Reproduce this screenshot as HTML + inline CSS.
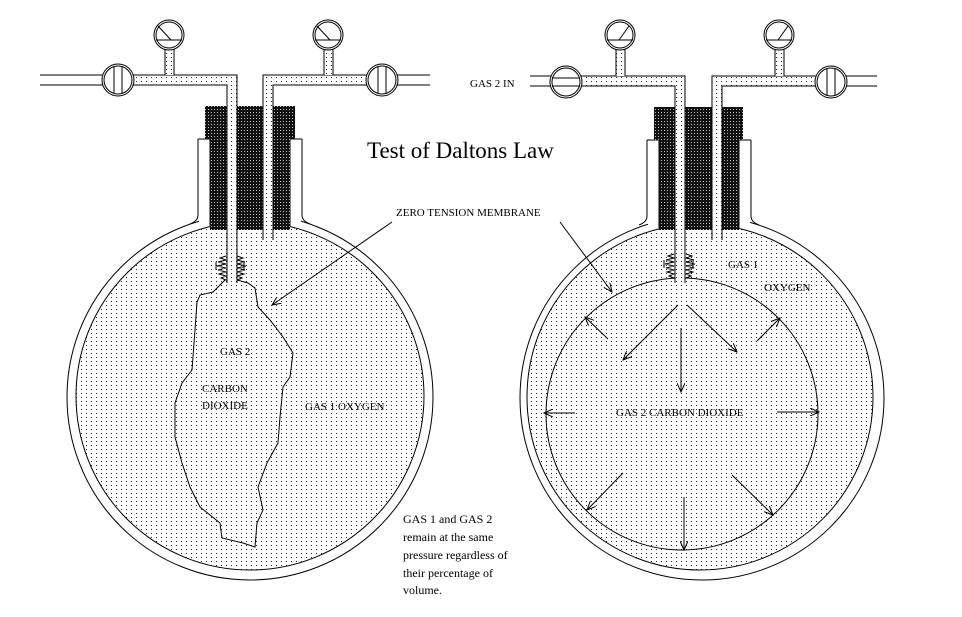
<!DOCTYPE html>
<html><head><meta charset="utf-8"><style>
html,body{margin:0;padding:0;background:#fff}
svg{display:block}
text{font-family:"Liberation Serif",serif;fill:#000}
</style></head><body>
<svg width="962" height="617" viewBox="0 0 962 617" xmlns="http://www.w3.org/2000/svg">
<defs>
<pattern id="d" width="5" height="4" patternUnits="userSpaceOnUse"><rect width="5" height="4" fill="#fff"/><rect x="1" y="1" width="1" height="1" fill="#222"/></pattern>
<pattern id="k" width="3" height="3" patternUnits="userSpaceOnUse"><rect width="3" height="3" fill="#111"/><rect x="1" y="1" width="1" height="1" fill="#bbb"/></pattern>
<marker id="a" markerWidth="10" markerHeight="8" refX="9" refY="4" orient="auto" markerUnits="userSpaceOnUse"><path d="M0,0 L9,4 L0,8" fill="none" stroke="#000" stroke-width="1"/></marker>
</defs>
<g stroke="#000" stroke-width="1" fill="none">

<!-- LEFT FLASK -->
<circle cx="250" cy="397" r="183" fill="#fff"/>
<rect x="199" y="139" width="102" height="88" fill="#fff" stroke="none"/>
<path d="M198,139 V215 Q198,221 190,224 M302,139 V215 Q302,221 310,224 M198,139 H210 M290,139 H302"/>
<circle cx="250" cy="396" r="174" fill="url(#d)"/>
<path d="M210,139 V226 M290,139 V226"/>
<rect x="205" y="106" width="90" height="33" fill="url(#k)" stroke="none"/>
<rect x="210" y="138" width="80" height="92" fill="url(#k)" stroke="none"/>
<path fill="url(#d)" d="M225,280 L213,292 L200,295 L197,302 L195,330 L192,370 L182,383 L175,403 L175,437 L182,463 L190,487 L200,507 L220,523 L222,538 L243,543 L255,547 L257,523 L263,510 L258,487 L267,463 L278,443 L280,417 L283,387 L290,377 L293,353 L283,337 L270,320 L258,307 L255,288 L248,283 L237,280 Z"/>
<path d="M226,256 l-6,2 l6,2 l-8,2 l8,2 l-9,2 l9,2 l-8,2 l8,2 l-7,2 l7,2 l-5,2 l5,2 M216,262 v8 M237,256 l6,2 l-6,2 l8,2 l-8,2 l9,2 l-9,2 l8,2 l-8,2 l7,2 l-7,2 l5,2 l-5,2 M244,262 v8"/>
<rect x="227" y="75" width="10" height="208" fill="url(#d)" stroke="none"/>
<rect x="134" y="75" width="103" height="10" fill="url(#d)" stroke="none"/>
<rect x="263" y="75" width="10" height="165" fill="url(#d)" stroke="none"/>
<rect x="263" y="75" width="103" height="10" fill="url(#d)" stroke="none"/>
<path d="M40,75 H237 V283 M40,85 H227 V283"/>
<path d="M430,75 H263 V240 M430,85 H273 V240"/>
<rect x="165" y="49" width="9" height="26" fill="url(#d)" stroke="none"/>
<path d="M165,49 V75 M174,49 V75"/>
<circle cx="169" cy="35" r="15" fill="#fff"/><circle cx="169" cy="35" r="13"/>
<path d="M156,40 H182 M158,26 L171,40"/>
<rect x="324" y="49" width="9" height="26" fill="url(#d)" stroke="none"/>
<path d="M324,49 V75 M333,49 V75"/>
<circle cx="328" cy="35" r="15" fill="#fff"/><circle cx="328" cy="35" r="13"/>
<path d="M315,40 H341 M317,26 L330,40"/>
<circle cx="118" cy="80" r="16" fill="#fff"/><circle cx="118" cy="80" r="14"/>
<path d="M114,67 V93 M122,67 V93"/>
<circle cx="382" cy="80" r="16" fill="#fff"/><circle cx="382" cy="80" r="14"/>
<path d="M378,67 V93 M386,67 V93"/>

<!-- RIGHT FLASK -->
<circle cx="702" cy="398" r="182" fill="#fff"/>
<rect x="648" y="140" width="102" height="88" fill="#fff" stroke="none"/>
<path d="M647,140 V216 Q647,222 639,225 M751,140 V216 Q751,222 759,225 M647,140 H659 M739,140 H751"/>
<circle cx="700" cy="397" r="173" fill="url(#d)"/>
<path d="M659,140 V228 M739,140 V228"/>
<rect x="654" y="107" width="89" height="33" fill="url(#k)" stroke="none"/>
<rect x="659" y="138" width="80" height="92" fill="url(#k)" stroke="none"/>
<circle cx="682" cy="414" r="136" fill="url(#d)"/>
<path d="M674,254 l-6,2 l6,2 l-8,2 l8,2 l-9,2 l9,2 l-8,2 l8,2 l-7,2 l7,2 l-5,2 l5,2 M664,260 v8 M686,254 l6,2 l-6,2 l8,2 l-8,2 l9,2 l-9,2 l8,2 l-8,2 l7,2 l-7,2 l5,2 l-5,2 M693,260 v8"/>
<rect x="675" y="76" width="10" height="207" fill="url(#d)" stroke="none"/>
<rect x="582" y="76" width="103" height="10" fill="url(#d)" stroke="none"/>
<rect x="712" y="76" width="10" height="164" fill="url(#d)" stroke="none"/>
<rect x="712" y="76" width="103" height="10" fill="url(#d)" stroke="none"/>
<path d="M530,76 H685 V283 M530,86 H675 V283"/>
<path d="M877,76 H712 V240 M877,86 H722 V240"/>
<rect x="616" y="49" width="9" height="27" fill="url(#d)" stroke="none"/>
<path d="M616,49 V76 M625,49 V76"/>
<circle cx="620" cy="35" r="15" fill="#fff"/><circle cx="620" cy="35" r="13"/>
<path d="M607,40 H633 M619,40 L629,26"/>
<rect x="775" y="49" width="9" height="27" fill="url(#d)" stroke="none"/>
<path d="M775,49 V76 M784,49 V76"/>
<circle cx="779" cy="35" r="15" fill="#fff"/><circle cx="779" cy="35" r="13"/>
<path d="M766,40 H792 M778,40 L788,26"/>
<circle cx="566" cy="82" r="16" fill="#fff"/><circle cx="566" cy="82" r="14"/>
<path d="M552,78 H580 M552,86 H580"/>
<circle cx="831" cy="82" r="16" fill="#fff"/><circle cx="831" cy="82" r="14"/>
<path d="M827,69 V95 M835,69 V95"/>

<g marker-end="url(#a)">
<line x1="678" y1="305" x2="623" y2="360"/>
<line x1="687" y1="305" x2="737" y2="352"/>
<line x1="681" y1="328" x2="681" y2="392"/>
<line x1="608" y1="339" x2="585" y2="317"/>
<line x1="757" y1="341" x2="780" y2="318"/>
<line x1="575" y1="413" x2="544" y2="413"/>
<line x1="777" y1="412" x2="819" y2="412"/>
<line x1="623" y1="473" x2="587" y2="510"/>
<line x1="732" y1="475" x2="773" y2="515"/>
<line x1="684" y1="497" x2="684" y2="550"/>
<line x1="392" y1="222" x2="272" y2="305"/>
<line x1="560" y1="222" x2="612" y2="292"/>
</g>
</g>

<text x="367" y="158" font-size="23">Test of Daltons Law</text>
<text x="396" y="216" font-size="11">ZERO TENSION MEMBRANE</text>
<text x="470" y="87" font-size="11">GAS 2 IN</text>
<text x="220" y="355" font-size="11">GAS 2</text>
<text x="202" y="392" font-size="11">CARBON</text>
<text x="202" y="409" font-size="11">DIOXIDE</text>
<text x="305" y="410" font-size="11">GAS 1  OXYGEN</text>
<text x="728" y="268" font-size="11">GAS 1</text>
<text x="764" y="291" font-size="11">OXYGEN</text>
<text x="616" y="416" font-size="11">GAS 2   CARBON DIOXIDE</text>
<g font-size="12">
<text x="403" y="523">GAS 1 and GAS 2</text>
<text x="403" y="541">remain at the same</text>
<text x="403" y="559">pressure regardless of</text>
<text x="403" y="577">their percentage of</text>
<text x="403" y="594">volume.</text>
</g>
</svg>
</body></html>
